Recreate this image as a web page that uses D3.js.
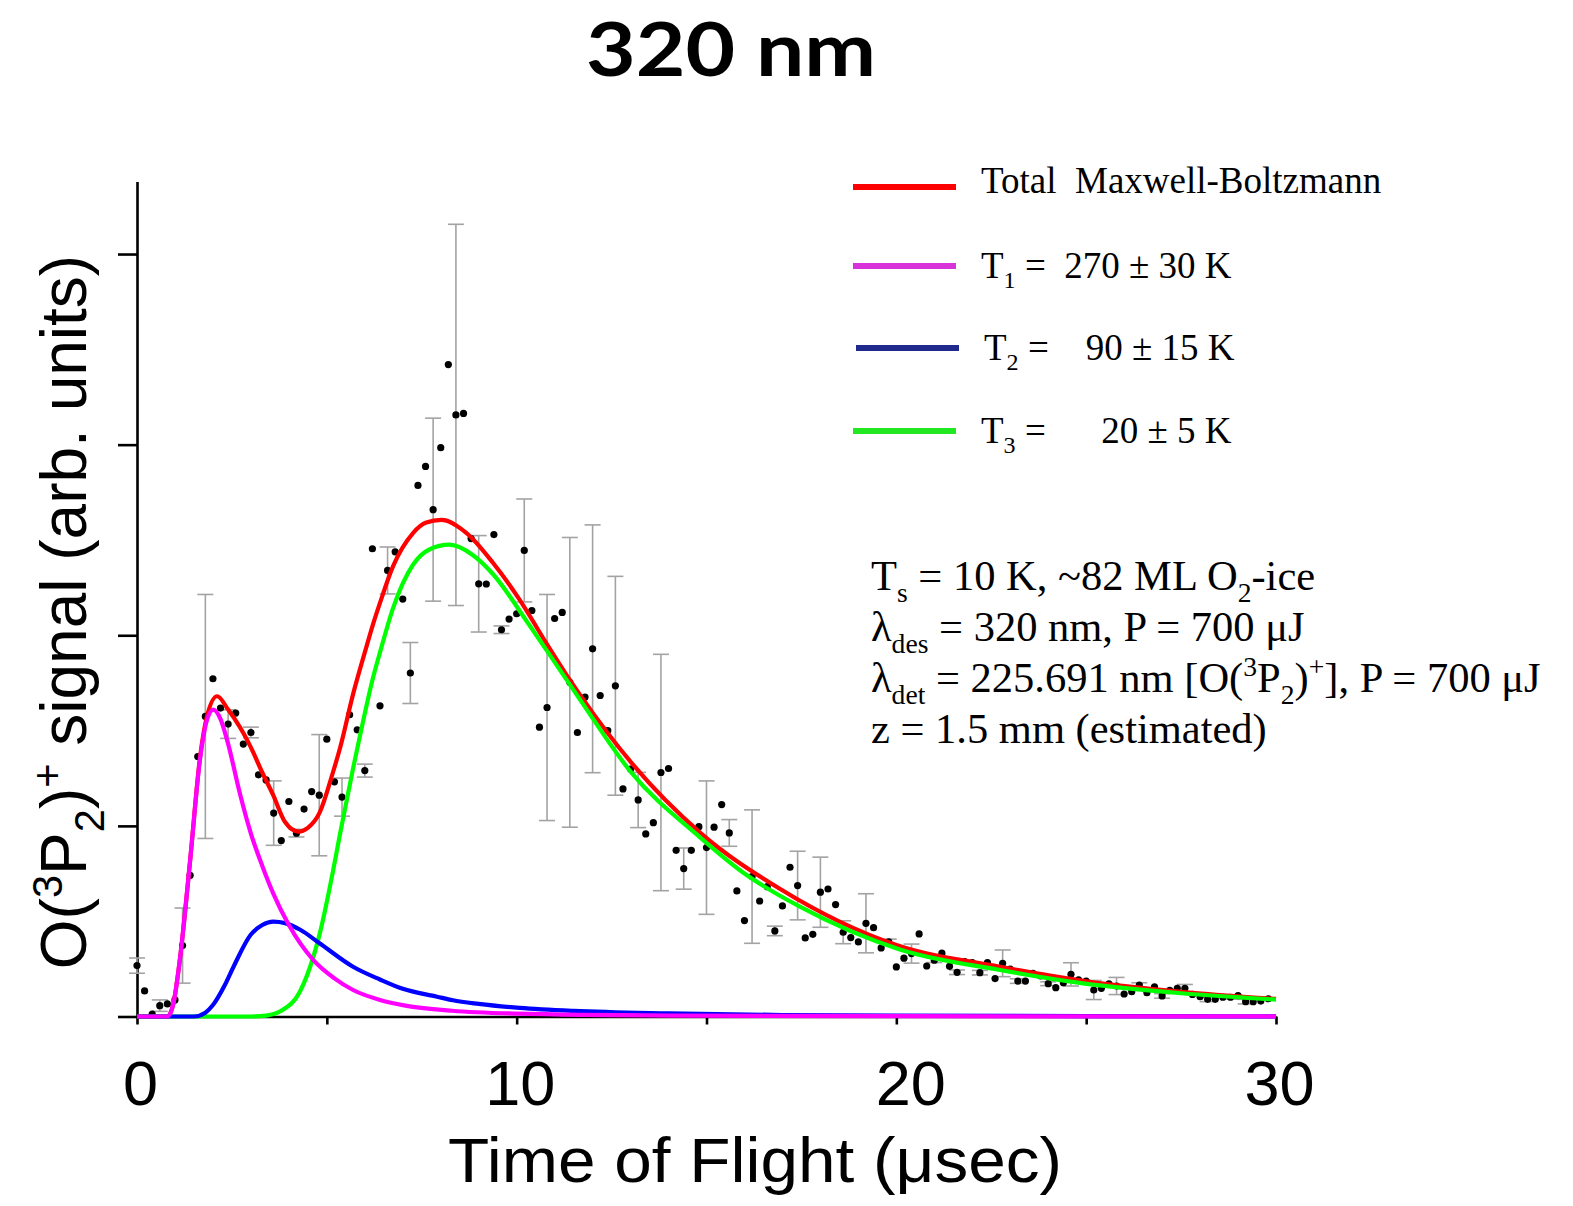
<!DOCTYPE html>
<html>
<head>
<meta charset="utf-8">
<script src="https://cdn.jsdelivr.net/npm/d3@7"></script>
<style>
  html, body { margin: 0; padding: 0; background: #fff; }
  svg { display: block; }
  text { white-space: pre; }
</style>
</head>
<body>
<div id="chart"></div>
<script>
// ---- measured data (time of flight in usec, signal in arb. units) ----
const tof = [
  0.0, 0.2, 0.4, 0.6, 0.8, 1.0, 1.2, 1.4, 1.6, 1.8, 2.0, 2.2, 2.4, 2.6, 2.8, 3.0, 3.2, 3.4, 3.6, 3.8,
  4.0, 4.2, 4.4, 4.6, 4.8, 5.0, 5.2, 5.4, 5.6, 5.8, 6.0, 6.2, 6.4, 6.6, 6.8, 7.0, 7.2, 7.4, 7.6, 7.8,
  8.0, 8.2, 8.4, 8.6, 8.8, 9.0, 9.2, 9.4, 9.6, 9.8, 10.0, 10.2, 10.4, 10.6, 10.8, 11.0, 11.2, 11.4, 11.6, 11.8,
  12.0, 12.2, 12.4, 12.6, 12.8, 13.0, 13.2, 13.4, 13.6, 13.8, 14.0, 14.2, 14.4, 14.6, 14.8, 15.0, 15.2, 15.4, 15.6, 15.8,
  16.0, 16.2, 16.4, 16.6, 16.8, 17.0, 17.2, 17.4, 17.6, 17.8, 18.0, 18.2, 18.4, 18.6, 18.8, 19.0, 19.2, 19.4, 19.6, 19.8,
  20.0, 20.2, 20.4, 20.6, 20.8, 21.0, 21.2, 21.4, 21.6, 21.8, 22.0, 22.2, 22.4, 22.6, 22.8, 23.0, 23.2, 23.4, 23.6, 23.8,
  24.0, 24.2, 24.4, 24.6, 24.8, 25.0, 25.2, 25.4, 25.6, 25.8, 26.0, 26.2, 26.4, 26.6, 26.8, 27.0, 27.2, 27.4, 27.6, 27.8,
  28.0, 28.2, 28.4, 28.6, 28.8, 29.0, 29.2, 29.4, 29.6, 29.8
];
const signal = [
  0.267, 0.134, 0.013, 0.057, 0.066, 0.087, 0.372, 0.741, 1.364, 1.574, 1.772, 1.618, 1.534, 1.592, 1.429, 1.490, 1.268, 1.241, 1.067, 0.923,
  1.128, 0.962, 1.088, 1.180, 1.161, 1.455, 1.231, 1.151, 1.583, 1.504, 1.290, 2.454, 1.630, 2.340, 2.438, 2.190, 1.802, 2.786, 2.886, 2.659,
  2.984, 3.420, 3.156, 3.164, 2.507, 2.270, 2.269, 2.528, 2.029, 2.085, 2.113, 2.445, 2.130, 1.518, 1.621, 2.088, 2.120, 1.753, 1.490, 1.676,
  1.929, 1.684, 1.500, 1.735, 1.194, 1.298, 1.136, 0.958, 1.017, 1.280, 1.301, 0.872, 0.776, 0.872, 0.996, 0.886, 0.993, 1.112, 0.963, 0.659,
  0.503, 0.734, 0.606, 0.681, 0.449, 0.580, 0.783, 0.687, 0.412, 0.431, 0.652, 0.669, 0.587, 0.442, 0.414, 0.391, 0.489, 0.466, 0.360, 0.391,
  0.260, 0.306, 0.330, 0.433, 0.265, 0.295, 0.332, 0.263, 0.232, 0.288, 0.283, 0.230, 0.283, 0.199, 0.279, 0.249, 0.186, 0.186, 0.227, 0.213,
  0.172, 0.151, 0.177, 0.221, 0.192, 0.186, 0.139, 0.148, 0.171, 0.160, 0.118, 0.130, 0.165, 0.125, 0.156, 0.108, 0.137, 0.148, 0.148, 0.116,
  0.104, 0.090, 0.090, 0.101, 0.101, 0.109, 0.078, 0.078, 0.081, 0.093
];
// half-height of the error bar for each point (0 = no bar drawn)
const errHalf = [
  0.040, 0, 0, 0.030, 0, 0, 0.197, 0, 0, 0.640, 0, 0, 0.075, 0, 0, 0.028, 0, 0, 0.169, 0,
  0, 0.020, 0, 0, 0.318, 0, 0, 0.100, 0, 0, 0.034, 0, 0, 0.123, 0, 0, 0.160, 0, 0, 0.480,
  0, 0, 1.000, 0, 0, 0.253, 0, 0, 0.020, 0, 0, 0.270, 0, 0, 0.593, 0, 0, 0.760, 0, 0,
  0.650, 0, 0, 0.574, 0, 0, 0.145, 0, 0, 0.620, 0, 0, 0.108, 0, 0, 0.350, 0, 0, 0.070, 0,
  0, 0.350, 0, 0, 0.025, 0, 0, 0.180, 0, 0, 0.184, 0, 0, 0.060, 0, 0, 0.155, 0, 0, 0.015,
  0, 0, 0.050, 0, 0, 0.012, 0, 0, 0.012, 0, 0, 0.012, 0, 0, 0.070, 0, 0.012, 0, 0, 0,
  0.010, 0, 0, 0.061, 0, 0, 0.050, 0, 0, 0.045, 0, 0, 0.012, 0, 0, 0.012, 0, 0, 0.020, 0,
  0, 0.012, 0, 0, 0.010, 0, 0.012, 0, 0, 0
];

// ---- fitted curves ----
const totalT = [0, 0.8, 0.95, 1.13, 1.4, 1.66, 1.85, 2.11, 2.4, 2.98, 3.3, 3.59, 3.9, 4.25, 4.5, 4.81, 5.16, 5.35, 5.69, 6.0,
  6.22, 6.4, 6.74, 7.27, 7.6, 8.02, 8.68, 9.38, 10.08, 10.78, 11.32, 11.66, 13.07, 14.83, 16.93, 20.0, 22.7, 25.0, 27.5, 30];
const totalY = [0, 0, 0.06, 0.30, 0.82, 1.36, 1.58, 1.68, 1.61, 1.42, 1.28, 1.16, 1.02, 0.97, 0.99, 1.07, 1.28, 1.41, 1.69, 1.91,
  2.06, 2.17, 2.36, 2.536, 2.59, 2.605, 2.536, 2.379, 2.186, 1.959, 1.79, 1.69, 1.32, 0.965, 0.67, 0.375, 0.262, 0.185, 0.13, 0.092];

const t1T = [0, 0.8, 0.95, 1.13, 1.4, 1.66, 1.85, 2.01, 2.2, 2.4, 2.71, 3.0, 3.3, 3.59, 4.0, 4.64, 5.2, 5.69, 6.4, 7.0, 8.3, 10, 14, 20, 30];
const t1Y = [0, 0, 0.06, 0.30, 0.82, 1.35, 1.56, 1.61, 1.56, 1.43, 1.17, 0.96, 0.79, 0.645, 0.48, 0.297, 0.20, 0.139, 0.087, 0.060, 0.030, 0.015, 0.005, 0.0015, 0.0004];

const t2T = [0, 1.5, 1.8, 2.0, 2.3, 2.54, 3.0, 3.3, 3.59, 3.9, 4.3, 4.81, 5.69, 6.4, 7.0, 7.9, 8.32, 9.0, 10.08, 11.5, 14, 17, 20, 25, 30];
const t2Y = [0, 0, 0.02, 0.06, 0.16, 0.26, 0.43, 0.48, 0.498, 0.49, 0.455, 0.384, 0.261, 0.194, 0.145, 0.104, 0.085, 0.066, 0.045, 0.029, 0.016, 0.008, 0.005, 0.002, 0.001];

const t3T = [0, 3.0, 3.4, 3.8, 4.29, 4.82, 5.16, 5.35, 5.69, 5.87, 6.22, 6.4, 6.74, 7.27, 7.7, 8.23, 8.85, 9.38, 10.26, 10.96,
  11.66, 13.0, 14.83, 16.0, 17.46, 20.09, 22.73, 24.92, 27.5, 30];
const t3Y = [0, 0, 0.005, 0.03, 0.13, 0.44, 0.76, 0.96, 1.30, 1.47, 1.78, 1.91, 2.14, 2.37, 2.45, 2.475, 2.42, 2.32, 2.075, 1.871,
  1.665, 1.285, 0.94, 0.75, 0.576, 0.352, 0.244, 0.174, 0.122, 0.089];

const xTicks = [0, 5, 10, 15, 20, 25, 30];
const xTickLabels = [0, 10, 20, 30];
const yTicks = [0, 1, 2, 3, 4];

const legendItems = [
  { color: '#ff0000', parts: [['Total  Maxwell-Boltzmann', 'n']] },
  { color: '#d833d8', parts: [['T', 'n'], ['1', 'sub'], [' =  270 \u00b1 30 K', 'n']] },
  { color: '#1f2a8c', parts: [['T', 'n'], ['2', 'sub'], [' =    90 \u00b1 15 K', 'n']] },
  { color: '#22e822', parts: [['T', 'n'], ['3', 'sub'], [' =      20 \u00b1 5 K', 'n']] }
];

const noteLines = [
  [['T', 'n'], ['s', 'sub'], [' = 10 K, ~82 ML O', 'n'], ['2', 'sub'], ['-ice', 'n']],
  [['\u03bb', 'n'], ['des', 'sub'], [' = 320 nm, P = 700 \u03bcJ', 'n']],
  [['\u03bb', 'n'], ['det', 'sub'], [' = 225.691 nm [O(', 'n'], ['3', 'sup'], ['P', 'n'], ['2', 'sub'], [')', 'n'], ['+', 'sup'], ['], P = 700 \u03bcJ', 'n']],
  [['z = 1.5 mm (estimated)', 'n']]
];

// ---- layout ----
const width = 1573, height = 1206;

const svg = d3.select('#chart').append('svg')
  .attr('width', width)
  .attr('height', height)
  .style('background', '#fff');

const x = d3.scaleLinear().domain([0, 30]).range([137, 1276]);
const y = d3.scaleLinear().domain([0, 4.38]).range([1016.5, 181.6]);

// writes text with sub/superscript pieces into a <text>
function addRich(textSel, parts, size) {
  let shift = 0;
  parts.forEach(([s, kind]) => {
    const target = kind === 'sub' ? size * 0.28 : kind === 'sup' ? -size * 0.38 : 0;
    textSel.append('tspan')
      .attr('dy', target - shift)
      .attr('font-size', kind === 'n' ? size : size * 0.65)
      .text(s);
    shift = target;
  });
}

// Title
svg.append('text')
  .attr('x', 731)
  .attr('y', 76)
  .attr('text-anchor', 'middle')
  .attr('font-family', 'Lato, "Open Sans", sans-serif')
  .attr('font-weight', 700)
  .attr('font-size', 74)
  .attr('textLength', 290)
  .attr('lengthAdjust', 'spacingAndGlyphs')
  .text('320 nm');

// Axes
const yAxisG = svg.append('g')
  .attr('transform', `translate(${x(0)},0)`)
  .call(d3.axisLeft(y).tickValues(yTicks).tickSize(19).tickSizeOuter(0).tickFormat(''));

const xAxisG = svg.append('g')
  .attr('transform', `translate(0,${y(0)})`)
  .call(d3.axisBottom(x).tickValues(xTicks).tickSize(8).tickSizeOuter(0).tickPadding(36)
    .tickFormat(d => xTickLabels.includes(d) ? d : ''));

[yAxisG, xAxisG].forEach(g => {
  g.select('.domain').attr('stroke', '#000').attr('stroke-width', 2.6);
  g.selectAll('.tick line').attr('stroke', '#000').attr('stroke-width', 2.6);
});
xAxisG.selectAll('.tick text')
  .attr('font-family', '"Liberation Sans", Arial, sans-serif')
  .attr('font-size', 63)
  .attr('fill', '#000')
  .attr('dx', d => d === 20 ? 14 : 3);

// Axis titles
svg.append('text')
  .attr('x', 755)
  .attr('y', 1182)
  .attr('text-anchor', 'middle')
  .attr('font-family', '"Liberation Sans", Arial, sans-serif')
  .attr('font-size', 63)
  .attr('textLength', 614)
  .attr('lengthAdjust', 'spacingAndGlyphs')
  .text('Time of Flight (\u03bcsec)');

const yTitle = svg.append('text')
  .attr('transform', 'translate(86,612) rotate(-90)')
  .attr('text-anchor', 'middle')
  .attr('font-family', '"Liberation Sans", Arial, sans-serif')
  .attr('font-size', 64);
addRich(yTitle, [['O(', 'n'], ['3', 'sup'], ['P', 'n'], ['2', 'sub'], [')', 'n'], ['+', 'sup'], [' signal (arb. units)', 'n']], 64);

// Data points with error bars
const points = tof.map((t, i) => ({ t: t, v: signal[i], e: errHalf[i] }));

const errG = svg.append('g').attr('stroke', '#a3a3a3').attr('stroke-width', 1.6);
points.filter(d => d.e > 0).forEach(d => {
  const x0 = x(d.t), yHi = y(d.v + d.e), yLo = y(d.v - d.e);
  errG.append('line').attr('x1', x0).attr('x2', x0).attr('y1', yHi).attr('y2', yLo);
  errG.append('line').attr('x1', x0 - 8).attr('x2', x0 + 8).attr('y1', yHi).attr('y2', yHi);
  errG.append('line').attr('x1', x0 - 8).attr('x2', x0 + 8).attr('y1', yLo).attr('y2', yLo);
});

svg.append('g').selectAll('circle')
  .data(points)
  .enter()
  .append('circle')
  .attr('cx', d => x(d.t))
  .attr('cy', d => y(d.v))
  .attr('r', 3.6)
  .attr('fill', '#000');

// Fitted curves (red, green, blue, magenta on top)
const line = d3.line()
  .x(d => x(d[0]))
  .y(d => y(d[1]))
  .curve(d3.curveMonotoneX);

const curves = [
  { ts: totalT, ys: totalY, color: '#ff0000' },
  { ts: t3T, ys: t3Y, color: '#00ff00' },
  { ts: t2T, ys: t2Y, color: '#0000ff' },
  { ts: t1T, ys: t1Y, color: '#ff00ff' }
];
curves.forEach(c => {
  svg.append('path')
    .attr('d', line(c.ts.map((t, i) => [t, c.ys[i]])))
    .attr('fill', 'none')
    .attr('stroke', c.color)
    .attr('stroke-width', 4.2)
    .attr('stroke-linejoin', 'round');
});

// Legend
const legendRowsY = [187, 266, 348, 431];
const legendTextDy = [6, 12, 12, 12];
const legend = svg.append('g');
legendItems.forEach((item, i) => {
  const ly = legendRowsY[i];
  legend.append('line')
    .attr('x1', i === 2 ? 856 : 853)
    .attr('x2', i === 2 ? 959 : 956)
    .attr('y1', ly).attr('y2', ly)
    .attr('stroke', item.color)
    .attr('stroke-width', 6);
  const txt = legend.append('text')
    .attr('x', i === 2 ? 984 : 981)
    .attr('y', ly + legendTextDy[i])
    .attr('font-family', '"Liberation Serif", "Times New Roman", serif')
    .attr('font-size', 37)
    .attr('fill', '#000');
  addRich(txt, item.parts, 37);
});

// Experimental conditions note
noteLines.forEach((parts, i) => {
  const txt = svg.append('text')
    .attr('x', 871)
    .attr('y', 590 + i * 51)
    .attr('font-family', '"Liberation Serif", "Times New Roman", serif')
    .attr('font-size', 42.5)
    .attr('fill', '#000');
  addRich(txt, parts, 42.5);
});
</script>
</body>
</html>
